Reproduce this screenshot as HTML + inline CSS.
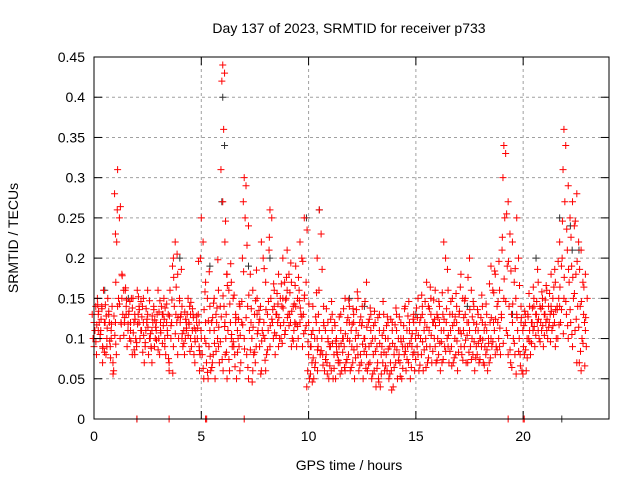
<!DOCTYPE html>
<html><head><meta charset="utf-8"><style>
body{margin:0;background:#fff}
svg text{font-family:"Liberation Sans",sans-serif;fill:#000}
</style></head><body>
<svg id="c" width="640" height="480" xmlns="http://www.w3.org/2000/svg">
<text x="349" y="33" font-size="14" text-anchor="middle">Day 137 of 2023, SRMTID for receiver p733</text>
<text x="349" y="470" font-size="14" text-anchor="middle">GPS time / hours</text>
<text transform="translate(18,238) rotate(-90)" font-size="14" text-anchor="middle">SRMTID / TECUs</text>
<g id="grid"></g><g id="pts"></g><g id="axes"></g>
</svg>
<script>
const xTicks=[0,5,10,15,20];
const yTicks=[0,0.05,0.1,0.15,0.2,0.25,0.3,0.35,0.4,0.45];
const yTickLabels=["0","0.05","0.1","0.15","0.2","0.25","0.3","0.35","0.4","0.45"];
// rows: [hour, values...]
const redRows=[
[0.0,0.12,0.14,0.10,0.11,0.13,0.09],[0.2,0.13,0.10,0.15,0.12,0.08,0.11],[0.4,0.09,0.12,0.14,0.16,0.11,0.07],
[0.6,0.10,0.13,0.08,0.15,0.12,0.09],[0.8,0.11,0.07,0.09,0.14,0.12,0.10],[1.0,0.23,0.26,0.28,0.08,0.06,0.12],
[1.1,0.31,0.25,0.22,0.15,0.17,0.14],[1.3,0.18,0.16,0.12,0.13,0.10,0.15],[1.5,0.14,0.11,0.16,0.09,0.12,0.13],
[1.7,0.12,0.08,0.10,0.15,0.13,0.11],[1.9,0.13,0.09,0.12,0.10,0.15,0.08],[2.1,0.14,0.11,0.13,0.10,0.16,0.12],
[2.3,0.12,0.09,0.14,0.07,0.11,0.15],[2.5,0.13,0.10,0.12,0.08,0.11,0.16],[2.7,0.11,0.14,0.09,0.12,0.10,0.07],
[2.9,0.12,0.16,0.10,0.13,0.09,0.11],[3.1,0.11,0.13,0.08,0.14,0.10,0.12],[3.3,0.09,0.12,0.15,0.08,0.13,0.10],
[3.5,0.07,0.10,0.13,0.16,0.11,0.06],[3.7,0.20,0.22,0.19,0.14,0.12,0.09],[3.9,0.18,0.15,0.12,0.10,0.13,0.08],
[4.1,0.14,0.11,0.13,0.09,0.12,0.10],[4.3,0.12,0.15,0.10,0.13,0.08,0.11],[4.5,0.13,0.11,0.14,0.09,0.12,0.10],
[4.7,0.10,0.12,0.08,0.11,0.13,0.07],[4.9,0.09,0.11,0.13,0.08,0.10,0.12],[5.0,0.25,0.22,0.20,0.08,0.06,0.10],
[5.2,0.17,0.15,0.10,0.07,0.05,0.12],[5.4,0.14,0.12,0.09,0.06,0.05,0.11],[5.6,0.15,0.13,0.08,0.05,0.07,0.11],
[5.8,0.16,0.14,0.10,0.07,0.12,0.09],[6.0,0.44,0.43,0.42,0.36,0.31,0.27],[6.1,0.22,0.18,0.14,0.10,0.06,0.12],
[6.2,0.18,0.16,0.13,0.11,0.08,0.05],[6.4,0.17,0.15,0.12,0.09,0.06,0.10],[6.6,0.13,0.11,0.08,0.05,0.09,0.12],
[6.8,0.14,0.12,0.09,0.07,0.10,0.06],[7.0,0.30,0.29,0.27,0.25,0.20,0.10],[7.2,0.24,0.18,0.14,0.11,0.08,0.05],
[7.4,0.16,0.13,0.10,0.08,0.12,0.06],[7.6,0.15,0.12,0.09,0.11,0.07,0.13],[7.8,0.22,0.20,0.14,0.11,0.09,0.06],
[8.0,0.17,0.13,0.10,0.08,0.12,0.06],[8.2,0.26,0.25,0.21,0.15,0.11,0.09],[8.4,0.16,0.13,0.10,0.08,0.12,0.14],
[8.6,0.18,0.15,0.12,0.10,0.13,0.09],[8.8,0.20,0.17,0.14,0.12,0.10,0.15],[9.0,0.21,0.18,0.15,0.13,0.11,0.16],
[9.2,0.17,0.14,0.12,0.10,0.13,0.09],[9.4,0.19,0.15,0.12,0.09,0.11,0.14],[9.6,0.22,0.20,0.16,0.13,0.10,0.12],
[9.8,0.25,0.17,0.13,0.11,0.09,0.15],[10.0,0.12,0.09,0.06,0.05,0.04,0.08],[10.2,0.14,0.10,0.07,0.05,0.09,0.11],
[10.4,0.20,0.16,0.12,0.09,0.07,0.10],[10.5,0.26,0.23,0.13,0.08,0.06,0.11],[10.7,0.14,0.11,0.08,0.06,0.10,0.12],
[10.9,0.12,0.09,0.07,0.05,0.08,0.10],[11.1,0.11,0.08,0.06,0.05,0.09,0.13],[11.3,0.10,0.07,0.05,0.08,0.12,0.09],
[11.5,0.13,0.10,0.07,0.06,0.09,0.11],[11.7,0.15,0.12,0.09,0.07,0.10,0.06],[11.9,0.14,0.11,0.08,0.06,0.10,0.12],
[12.1,0.13,0.10,0.07,0.05,0.09,0.12],[12.3,0.15,0.12,0.09,0.06,0.11,0.08],[12.5,0.12,0.10,0.07,0.05,0.08,0.14],
[12.7,0.17,0.12,0.09,0.06,0.10,0.08],[12.9,0.13,0.10,0.07,0.05,0.09,0.11],[13.1,0.12,0.09,0.06,0.04,0.08,0.10],
[13.3,0.11,0.08,0.05,0.04,0.07,0.13],[13.5,0.13,0.10,0.07,0.06,0.09,0.11],[13.7,0.12,0.09,0.06,0.05,0.08,0.10],
[13.9,0.11,0.08,0.06,0.04,0.07,0.12],[14.1,0.13,0.10,0.07,0.05,0.09,0.11],[14.3,0.12,0.09,0.07,0.05,0.08,0.10],
[14.5,0.14,0.11,0.08,0.06,0.10,0.09],[14.7,0.12,0.10,0.07,0.05,0.09,0.11],[14.9,0.13,0.10,0.08,0.06,0.09,0.12],
[15.1,0.15,0.12,0.09,0.06,0.11,0.08],[15.3,0.14,0.11,0.08,0.06,0.10,0.13],[15.5,0.17,0.14,0.10,0.07,0.12,0.09],
[15.7,0.15,0.12,0.09,0.07,0.11,0.13],[15.9,0.16,0.13,0.10,0.07,0.12,0.09],[16.1,0.14,0.11,0.08,0.06,0.10,0.12],
[16.3,0.22,0.20,0.13,0.09,0.07,0.11],[16.5,0.16,0.13,0.10,0.07,0.12,0.09],[16.7,0.15,0.12,0.09,0.07,0.11,0.13],
[16.9,0.14,0.11,0.08,0.06,0.10,0.12],[17.1,0.18,0.15,0.11,0.08,0.13,0.09],[17.3,0.15,0.12,0.09,0.07,0.11,0.13],
[17.5,0.20,0.16,0.12,0.09,0.07,0.11],[17.7,0.14,0.11,0.08,0.06,0.10,0.12],[17.9,0.13,0.10,0.08,0.07,0.09,0.11],
[18.1,0.14,0.11,0.09,0.07,0.10,0.12],[18.3,0.13,0.10,0.08,0.06,0.09,0.11],[18.5,0.19,0.16,0.12,0.09,0.07,0.10],
[18.7,0.18,0.14,0.11,0.09,0.12,0.08],[18.9,0.16,0.13,0.10,0.08,0.12,0.09],[19.1,0.34,0.33,0.30,0.25,0.21,0.15],
[19.3,0.27,0.23,0.19,0.14,0.11,0.08],[19.5,0.22,0.17,0.13,0.10,0.07,0.12],[19.7,0.25,0.20,0.15,0.11,0.08,0.13],
[19.9,0.14,0.11,0.08,0.06,0.10,0.12],[20.1,0.13,0.10,0.08,0.06,0.09,0.12],[20.3,0.14,0.12,0.10,0.08,0.13,0.11],
[20.5,0.15,0.13,0.11,0.09,0.12,0.14],[20.7,0.17,0.14,0.12,0.10,0.13,0.11],[20.9,0.15,0.13,0.11,0.09,0.12,0.14],
[21.1,0.16,0.14,0.12,0.10,0.13,0.11],[21.3,0.18,0.15,0.13,0.11,0.12,0.14],[21.5,0.17,0.14,0.12,0.10,0.13,0.09],
[21.7,0.22,0.19,0.15,0.12,0.10,0.14],[21.9,0.36,0.34,0.31,0.27,0.20,0.15],[22.1,0.29,0.25,0.21,0.17,0.13,0.10],
[22.3,0.27,0.24,0.19,0.15,0.12,0.09],[22.5,0.28,0.22,0.18,0.14,0.11,0.07],[22.7,0.21,0.17,0.14,0.10,0.07,0.06],
[22.9,0.18,0.15,0.12,0.09,0.13,0.11],
[2.0,0],[3.5,0],[5.2,0],[5.25,0],[7.0,0],[19.3,0],[20.0,0],[20.05,0]];
const redRows2=[
[0.13,0.117,0.134,0.096,0.142],[0.33,0.124,0.088,0.105,0.137],[0.53,0.142,0.113,0.083,0.128],[0.73,0.097,0.118,0.134,0.076],
[0.93,0.128,0.093,0.056,0.104],[1.23,0.264,0.178,0.143,0.118],[1.43,0.126,0.148,0.104,0.163],[1.63,0.134,0.097,0.118,0.146],
[1.83,0.107,0.124,0.138,0.086],[2.03,0.118,0.136,0.095,0.152],[2.23,0.127,0.104,0.146,0.083],[2.43,0.137,0.114,0.095,0.124],
[2.63,0.106,0.128,0.147,0.088],[2.83,0.123,0.098,0.136,0.114],[3.03,0.133,0.107,0.086,0.147],[3.23,0.116,0.138,0.094,0.124],
[3.43,0.104,0.128,0.143,0.075],[3.63,0.148,0.176,0.116,0.057],[3.83,0.164,0.126,0.106,0.205],[4.03,0.127,0.106,0.147,0.186],
[4.23,0.133,0.113,0.094,0.124],[4.43,0.118,0.145,0.104,0.084],[4.63,0.126,0.096,0.137,0.113],[4.83,0.113,0.085,0.128,0.196],
[5.13,0.136,0.094,0.063,0.158],[5.33,0.122,0.078,0.058,0.183],[5.53,0.126,0.094,0.064,0.144],[5.73,0.138,0.114,0.084,0.198],
[5.93,0.127,0.153,0.096,0.074],[6.13,0.246,0.166,0.115,0.083],[6.33,0.143,0.105,0.074,0.193],[6.53,0.154,0.126,0.096,0.065],
[6.73,0.124,0.104,0.083,0.143],[6.93,0.117,0.087,0.146,0.183],[7.13,0.216,0.154,0.126,0.064],[7.33,0.137,0.114,0.086,0.046],
[7.53,0.147,0.106,0.083,0.185],[7.73,0.124,0.097,0.135,0.056],[7.93,0.187,0.136,0.104,0.073],[8.13,0.146,0.116,0.086,0.226],
[8.33,0.136,0.107,0.124,0.168],[8.53,0.156,0.126,0.104,0.143],[8.73,0.168,0.138,0.116,0.094],[8.93,0.148,0.126,0.105,0.176],
[9.13,0.157,0.134,0.116,0.194],[9.33,0.143,0.118,0.097,0.166],[9.53,0.176,0.138,0.115,0.147],[9.73,0.196,0.154,0.127,0.106],
[9.93,0.235,0.143,0.116,0.096],[10.13,0.105,0.076,0.056,0.046],[10.33,0.127,0.086,0.064,0.157],[10.63,0.186,0.116,0.085,0.067],
[10.83,0.137,0.096,0.074,0.056],[11.03,0.124,0.094,0.066,0.146],[11.23,0.116,0.083,0.063,0.097],[11.43,0.127,0.094,0.073,0.056],
[11.63,0.137,0.106,0.083,0.064],[11.83,0.126,0.097,0.074,0.148],[12.03,0.118,0.086,0.064,0.137],[12.23,0.136,0.104,0.076,0.158],
[12.43,0.127,0.093,0.067,0.116],[12.63,0.146,0.114,0.084,0.063],[12.83,0.124,0.094,0.068,0.138],[13.03,0.116,0.084,0.056,0.134],
[13.23,0.126,0.094,0.063,0.046],[13.43,0.104,0.083,0.056,0.146],[13.63,0.116,0.087,0.066,0.127],[13.83,0.124,0.094,0.056,0.036],
[14.03,0.117,0.086,0.064,0.138],[14.23,0.127,0.096,0.073,0.053],[14.43,0.116,0.084,0.063,0.137],[14.63,0.128,0.094,0.074,0.146],
[14.83,0.106,0.083,0.064,0.124],[15.03,0.138,0.104,0.074,0.126],[15.23,0.126,0.096,0.067,0.154],[15.43,0.146,0.114,0.086,0.064],
[15.63,0.137,0.104,0.076,0.164],[15.83,0.148,0.116,0.084,0.124],[16.03,0.126,0.094,0.073,0.146],[16.23,0.157,0.124,0.096,0.074],
[16.43,0.137,0.104,0.084,0.186],[16.63,0.146,0.116,0.084,0.066],[16.83,0.127,0.097,0.076,0.156],[17.03,0.134,0.106,0.083,0.164],
[17.23,0.126,0.098,0.073,0.147],[17.43,0.176,0.136,0.104,0.083],[17.63,0.127,0.096,0.074,0.146],[17.83,0.118,0.094,0.076,0.136],
[18.03,0.126,0.098,0.074,0.154],[18.23,0.117,0.086,0.067,0.143],[18.43,0.168,0.126,0.094,0.076],[18.63,0.157,0.124,0.096,0.184],
[18.83,0.146,0.113,0.086,0.196],[19.03,0.226,0.174,0.126,0.094],[19.23,0.255,0.196,0.146,0.104],[19.43,0.184,0.143,0.086,0.064],
[19.63,0.187,0.126,0.094,0.056],[19.83,0.166,0.126,0.084,0.066],[20.03,0.116,0.086,0.056,0.134],[20.23,0.127,0.096,0.076,0.156],
[20.43,0.138,0.115,0.094,0.164],[20.63,0.146,0.124,0.104,0.186],[20.83,0.137,0.116,0.096,0.158],[21.03,0.148,0.124,0.104,0.166],
[21.23,0.156,0.134,0.114,0.096],[21.43,0.164,0.136,0.116,0.186],[21.63,0.196,0.164,0.136,0.117],[21.83,0.246,0.176,0.136,0.106],
[22.03,0.236,0.186,0.146,0.116],[22.23,0.226,0.176,0.136,0.105],[22.43,0.246,0.196,0.156,0.124],[22.63,0.186,0.146,0.114,0.084],
[22.83,0.164,0.126,0.094,0.066]];
const blackRows=[[0.5,0.16],[1.6,0.15],[2.0,0],[4.0,0.2],[5.4,0.19],[6.0,0.40,0.34,0.27],[7.2,0.19],[8.2,0.2],
[9.9,0.25],[10.5,0.26],[11.9,0.15],[12.6,0.14],[15.0,0.13],[17.4,0.14],[19.5,0.13],[20.6,0.2],[21.7,0.25],[21.8,0],[22.2,0.24,0.21],[22.6,0.21]];
const L=94,R=609,T=57,B=419;
const X=h=>L+(h/24)*(R-L), Y=v=>B-(v/0.45)*(B-T);
const NS="http://www.w3.org/2000/svg";
function mk(tag,a,p){const e=document.createElementNS(NS,tag);for(const k in a)e.setAttribute(k,a[k]);p.appendChild(e);return e;}
const grid=document.getElementById('grid'),axes=document.getElementById('axes'),pts=document.getElementById('pts');
yTicks.forEach((v,i)=>{const y=Y(v);
 if(i>0&&i<yTicks.length-1){const g=mk('line',{x1:L,x2:R,y1:y,y2:y,stroke:'#a0a0a0','stroke-dasharray':'3,3'},grid);
 
 }
 mk('line',{x1:L,x2:L+8,y1:y,y2:y,stroke:'#000'},axes);mk('line',{x1:R,x2:R-8,y1:y,y2:y,stroke:'#000'},axes);
 const t=mk('text',{x:L-9,y:y+5,'font-size':14,'text-anchor':'end'},axes);t.textContent=yTickLabels[i];
 
 });
xTicks.forEach(h=>{const x=X(h);
 if(h>0){const g=mk('line',{x1:x,x2:x,y1:T,y2:B,stroke:'#a0a0a0','stroke-dasharray':'3,3'},grid);
 
 }
 mk('line',{x1:x,x2:x,y1:B,y2:B-8,stroke:'#000'},axes);mk('line',{x1:x,x2:x,y1:T,y2:T+8,stroke:'#000'},axes);
 const t=mk('text',{x:x,y:B+22,'font-size':14,'text-anchor':'middle'},axes);t.textContent=h;
 
 });
const fr=mk('rect',{x:L,y:T,width:R-L,height:B-T,fill:'none',stroke:'#000'},axes);


function plot(rows,col,name){rows.forEach(r=>{for(let i=1;i<r.length;i++){const x=X(r[0])+(r[i]===0?0:((i*7)%5-2)*0.9);const y=Y(r[i]);
 const p=mk('path',{d:`M${x-3.5},${y}h7M${x},${y-3.5}v7`,stroke:col,'stroke-width':1,fill:'none'},pts);
 
 }});}
plot(blackRows,'#333','black-point');
plot(redRows,'#ff0000','red-point');
plot(redRows2,'#ff0000','red-point');
</script>
</body></html>
